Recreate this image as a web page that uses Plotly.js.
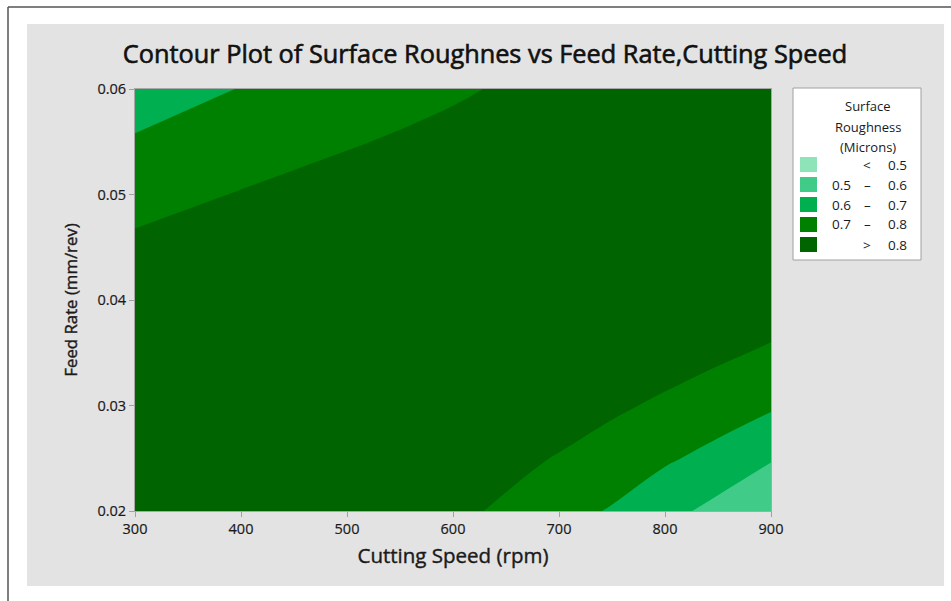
<!DOCTYPE html>
<html>
<head>
<meta charset="utf-8">
<script src="https://cdn.plot.ly/plotly-3.0.1.min.js"></script>
<style>
html,body{margin:0;padding:0;background:#fff;}
#chart{width:951px;height:601px;}
#chart .gtitle{stroke:#111;stroke-width:0.6px;}
#chart .xtitle,#chart .ytitle{stroke:#1a1a1a;stroke-width:0.4px;}
#chart .xtick text,#chart .ytick text{stroke:#1a1a1a;stroke-width:0.2px;}
</style>
</head>
<body>
<div id="chart"></div>
<script>
// ---- data ----
const cuttingSpeed = [300, 400, 500, 600, 650, 700, 750, 800, 850, 900];            // rpm
const feedRate = [0.020, 0.025, 0.030, 0.035, 0.040, 0.045, 0.050, 0.055, 0.060]; // mm/rev
// surface roughness (microns); one row per feed rate, one column per cutting speed
const roughness = [
  [0.890, 0.880, 0.870, 0.821, 0.785, 0.745, 0.690, 0.632, 0.570, 0.520],
  [0.895, 0.890, 0.880, 0.845, 0.827, 0.794, 0.773, 0.713, 0.670, 0.607],
  [0.890, 0.895, 0.890, 0.870, 0.855, 0.850, 0.810, 0.790, 0.749, 0.713],
  [0.880, 0.890, 0.895, 0.885, 0.875, 0.872, 0.845, 0.828, 0.817, 0.787],
  [0.860, 0.875, 0.890, 0.890, 0.885, 0.883, 0.870, 0.860, 0.850, 0.852],
  [0.820, 0.850, 0.870, 0.885, 0.888, 0.888, 0.882, 0.875, 0.868, 0.870],
  [0.764, 0.805, 0.840, 0.855, 0.870, 0.880, 0.882, 0.880, 0.875, 0.875],
  [0.709, 0.754, 0.792, 0.828, 0.845, 0.860, 0.866, 0.870, 0.870, 0.870],
  [0.653, 0.703, 0.745, 0.787, 0.810, 0.830, 0.840, 0.850, 0.855, 0.860]
];
const xTicks = [300, 400, 500, 600, 700, 800, 900];
const yTicks = [0.02, 0.03, 0.04, 0.05, 0.06];
const levels = [0.5, 0.6, 0.7, 0.8];
const bandColors = ['#8ee3b9', '#40cc88', '#00b050', '#008000', '#006400'];
const bandLow = ['', '0.5', '0.6', '0.7', ''];
const bandSym = ['<', '\u2013', '\u2013', '\u2013', '>'];
const bandHigh = ['0.5', '0.6', '0.7', '0.8', '0.8'];
const legendTitle = ['Surface', 'Roughness', '(Microns)'];

// ---- layout helpers (pixel -> paper) ----
const W = 951, H = 601;
const M = {l: 135, r: 180, t: 89, b: 90};
const PW = W - M.l - M.r, PH = H - M.t - M.b;
const px = v => (v - M.l) / PW;
const py = v => (H - M.b - v) / PH;

// stepwise colorscale so each filled band gets one flat colour
const n = bandColors.length;
const colorscale = [];
bandColors.forEach((c, i) => {
  const a = i === 0 ? 0 : (i - 0.5) / (n - 1);
  const b = i === n - 1 ? 1 : (i + 0.5) / (n - 1);
  colorscale.push([a, c]); colorscale.push([b, c]);
});

const trace = {
  type: 'contour',
  x: cuttingSpeed, y: feedRate, z: roughness,
  colorscale: colorscale,
  showscale: false,
  autocontour: false,
  contours: {start: levels[0], end: levels[levels.length - 1], size: 0.1, coloring: 'fill', showlines: false},
  line: {width: 0, smoothing: 1.3},
  hoverinfo: 'skip'
};

const txt = '#1a1a1a';
const shapes = [
  {type: 'rect', xref: 'paper', yref: 'paper', layer: 'below',
   x0: px(27), x1: px(944), y0: py(586), y1: py(24),
   fillcolor: '#e3e3e3', line: {width: 0}},
  {type: 'line', xref: 'paper', yref: 'paper', x0: px(8), x1: px(8), y0: py(7), y1: py(601),
   line: {color: '#555', width: 1.5}},
  {type: 'line', xref: 'paper', yref: 'paper', x0: px(8), x1: px(951), y0: py(7), y1: py(7),
   line: {color: '#555', width: 1.5}},
  {type: 'rect', xref: 'paper', yref: 'paper',
   x0: px(793), x1: px(921), y0: py(260), y1: py(88),
   fillcolor: '#ffffff', line: {color: '#a0a0a0', width: 1}}
];
const annotations = [];
legendTitle.forEach((t, i) => {
  annotations.push({xref: 'paper', yref: 'paper', x: px(868), y: py(106 + 20.5 * i),
    xanchor: 'center', yanchor: 'middle', text: t, showarrow: false,
    font: {size: 13, color: txt}});
});
bandColors.forEach((c, i) => {
  const cy = 164.5 + 20 * i;
  shapes.push({type: 'rect', xref: 'paper', yref: 'paper',
    x0: px(800), x1: px(817), y0: py(cy + 7.5), y1: py(cy - 7.5),
    fillcolor: c, line: {width: 0}});
  if (bandLow[i]) annotations.push({xref: 'paper', yref: 'paper', x: px(830), y: py(cy),
    xanchor: 'left', yanchor: 'middle', text: bandLow[i], showarrow: false, font: {size: 13.5, color: txt}});
  annotations.push({xref: 'paper', yref: 'paper', x: px(867), y: py(cy),
    xanchor: 'center', yanchor: 'middle', text: bandSym[i], showarrow: false, font: {size: 13.5, color: txt}});
  annotations.push({xref: 'paper', yref: 'paper', x: px(909), y: py(cy),
    xanchor: 'right', yanchor: 'middle', text: bandHigh[i], showarrow: false, font: {size: 13.5, color: txt}});
});

const layout = {
  width: W, height: H,
  margin: M,
  paper_bgcolor: '#ffffff',
  plot_bgcolor: '#e3e3e3',
  font: {family: 'Open Sans, sans-serif', color: txt},
  title: {text: 'Contour Plot of Surface Roughnes vs Feed Rate,Cutting Speed',
          xref: 'container', yref: 'container', x: 485 / W, y: 1 - 54 / H,
          xanchor: 'center', yanchor: 'middle', font: {size: 25.3, color: '#111'}},
  xaxis: {range: [300, 900], tickvals: xTicks, ticktext: xTicks.map(String),
          ticks: 'outside', ticklen: 5, tickcolor: '#a0a0a0',
          showline: true, mirror: true, linecolor: '#a8a8a8', linewidth: 1,
          showgrid: false, zeroline: false, tickfont: {size: 14.5, color: txt},
          title: {text: 'Cutting Speed (rpm)', font: {size: 20.5, color: txt}, standoff: 11}},
  yaxis: {range: [0.02, 0.06], tickvals: yTicks, ticktext: yTicks.map(v => v.toFixed(2)),
          ticks: 'outside', ticklen: 5, tickcolor: '#a0a0a0',
          showline: true, mirror: true, linecolor: '#a8a8a8', linewidth: 1,
          showgrid: false, zeroline: false, tickfont: {size: 14.5, color: txt},
          title: {text: 'Feed Rate (mm/rev)', font: {size: 16.8, color: txt}, standoff: 15}},
  shapes: shapes,
  annotations: annotations,
  showlegend: false
};

Plotly.newPlot('chart', [trace], layout, {displayModeBar: false, staticPlot: true});
</script>
</body>
</html>
